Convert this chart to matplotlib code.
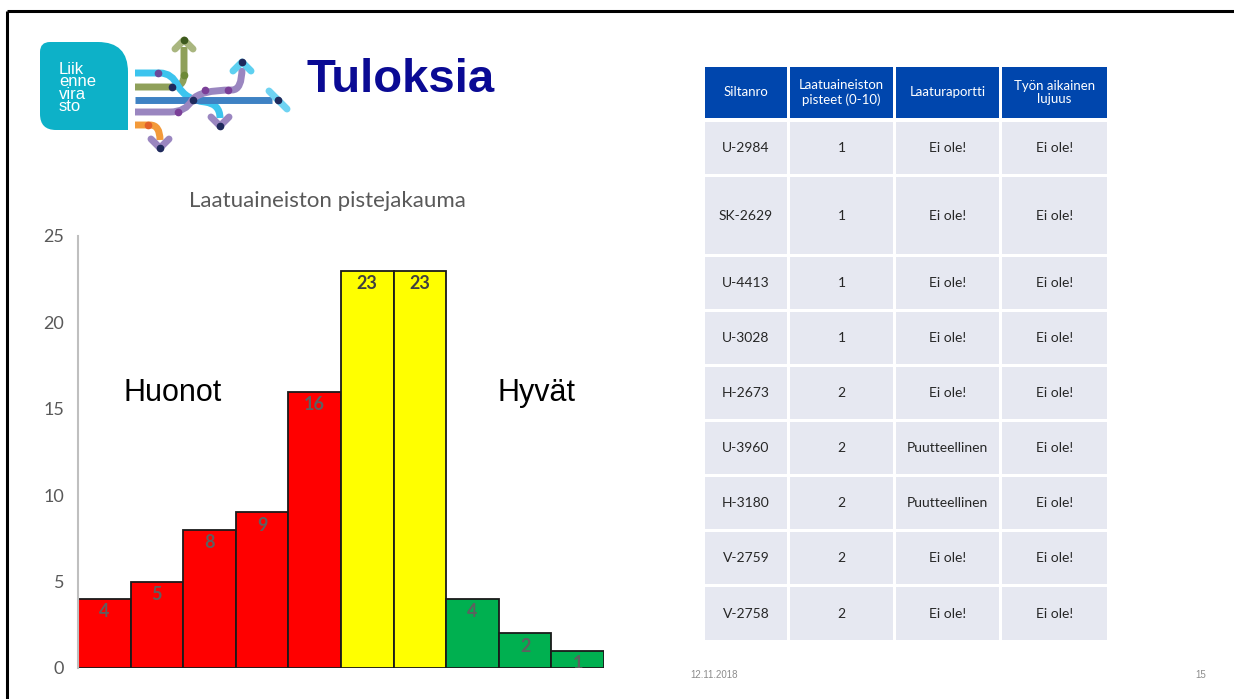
import numpy as np
import matplotlib
matplotlib.use("Agg")
import matplotlib.pyplot as plt
from matplotlib.patches import Rectangle, PathPatch
from matplotlib.path import Path

# --------------------------
# Data
# --------------------------
bar_values = [4, 5, 8, 9, 16, 23, 23, 4, 2, 1]
bar_colors = ["#FF0000"] * 5 + ["#FFFF00"] * 2 + ["#00B050"] * 3
y_ticks = [0, 5, 10, 15, 20, 25]

table_header = ["Siltanro", "Laatuaineiston\npisteet (0-10)", "Laaturaportti", "Työn aikainen\nlujuus"]
siltanro = ["U-2984", "SK-2629", "U-4413", "U-3028", "H-2673", "U-3960", "H-3180", "V-2759", "V-2758"]
pisteet = ["1", "1", "1", "1", "2", "2", "2", "2", "2"]
laaturaportti = ["Ei ole!", "Ei ole!", "Ei ole!", "Ei ole!", "Ei ole!",
                 "Puutteellinen", "Puutteellinen", "Ei ole!", "Ei ole!"]
lujuus = ["Ei ole!"] * 9

W, H = 1234, 699
fig = plt.figure(figsize=(W / 100, H / 100), dpi=100)
fig.patch.set_facecolor("white")

# overlay in pixel coordinates for slide furniture
bg = fig.add_axes([0, 0, 1, 1])
bg.set_xlim(0, W)
bg.set_ylim(H, 0)
bg.axis("off")

# slide border
bg.plot([7, W], [11, 11], color="black", lw=2.2, solid_capstyle="butt")
bg.plot([7, 7], [11, H], color="black", lw=2.2, solid_capstyle="butt")

# --------------------------
# Logo
# --------------------------
teal = Path([(40, 52), (40, 42), (50, 42), (98, 42), (128, 42), (128, 72),
             (128, 130), (56, 130), (40, 130), (40, 114), (40, 52)],
            [Path.MOVETO, Path.CURVE3, Path.CURVE3, Path.LINETO, Path.CURVE3, Path.CURVE3,
             Path.LINETO, Path.LINETO, Path.CURVE3, Path.CURVE3, Path.CLOSEPOLY])
bg.add_patch(PathPatch(teal, facecolor="#0DB1C8", edgecolor="none"))
bg.text(59, 88, "Liik\nenne\nvira\nsto", color="white", fontsize=12, ha="left", va="center",
        linespacing=0.8, family="Liberation Sans")

def stroke(verts, codes, color):
    bg.add_patch(PathPatch(Path(verts, codes), facecolor="none", edgecolor=color, lw=5,
                           capstyle="butt", joinstyle="round"))

M, L, C = Path.MOVETO, Path.LINETO, Path.CURVE3
# olive up
stroke([(135, 87), (172, 87), (184, 87), (184, 75), (184, 47)], [M, L, C, C, L], "#8FA05A")
# cyan down
stroke([(135, 73), (160, 73), (172, 73), (178, 86), (186, 100), (205, 102), (220, 104), (220, 118)],
       [M, L, C, C, C, C, C, L], "#3CC4EE")
# blue straight
stroke([(135, 100), (272, 100)], [M, L], "#3E82C4")
# purple up
stroke([(135, 112), (170, 112), (186, 112), (192, 100), (200, 90), (232, 90), (242, 90), (242, 68)],
       [M, L, C, C, C, C, C, L], "#9A86C0")
# orange down
stroke([(135, 125), (150, 125), (160, 125), (160, 140)], [M, L, C, C], "#F39A3A")

def chevron(x, y, d, color):
    s = 9
    if d == "up":
        pts = [(x - s, y + s), (x, y), (x + s, y + s)]
    elif d == "down":
        pts = [(x - s, y - s), (x, y), (x + s, y - s)]
    else:
        pts = [(x - s, y - s), (x, y), (x + s, y + s)]
    xs, ys = zip(*pts)
    bg.plot(xs, ys, color=color, lw=5, solid_capstyle="round", solid_joinstyle="round")

chevron(184, 40, "up", "#A9B67F")
chevron(242, 62, "up", "#5ED0F0")
chevron(278, 100, "right", "#6FD3F2")
chevron(220, 126, "down", "#9A86C0")
chevron(160, 148, "down", "#9A86C0")
for (dx, dy, dc) in [(184, 40, "#3E5A1E"), (184, 75, "#6E8A36"), (242, 62, "#1F2A5C"),
                     (278, 100, "#1F2A5C"), (193, 100, "#1F2A5C"), (172, 87, "#1F2A5C"),
                     (220, 126, "#1F2A5C"), (160, 148, "#1F2A5C"), (158, 73, "#6A4A9A"),
                     (178, 112, "#7B3F98"), (205, 90, "#7B3F98"), (228, 90, "#7B3F98"),
                     (148, 125, "#E2602A")]:
    bg.plot(dx, dy, "o", color=dc, ms=4.5)

bg.text(401, 80, "Tuloksia", color="#0A0A94", fontsize=34, fontweight="bold",
        ha="center", va="center", family="Liberation Sans")

# --------------------------
# Bar chart
# --------------------------
ax = fig.add_axes([78 / W, (H - 668) / H, 526 / W, 432 / H])
ax.set_facecolor("none")
x = np.arange(len(bar_values))
ax.bar(x, bar_values, width=1.0, color=bar_colors, edgecolor="#1a1a1a", linewidth=1.3)
for i, v in enumerate(bar_values):
    ax.annotate(str(v), (i, v), xytext=(0, -3), textcoords="offset points",
                ha="center", va="top", fontsize=13, fontweight="bold",
                color="#404040" if v > 20 else "#5f5f5f", family="Lato", clip_on=True)
ax.set_xlim(-0.5, 9.5)
ax.set_ylim(0, 25)
ax.set_yticks(y_ticks)
ax.set_xticks([])
ax.tick_params(axis="y", length=0, pad=10, labelsize=13, labelcolor="#595959")
for lab in ax.get_yticklabels():
    lab.set_family("Lato")
for s in ["top", "right", "bottom"]:
    ax.spines[s].set_visible(False)
ax.spines["left"].set_color("#BFBFBF")
ax.spines["left"].set_linewidth(1.5)

bg.text(327, 201, "Laatuaineiston pistejakauma", fontsize=16, color="#595959",
        ha="center", va="center", family="Lato")
bg.text(173, 393, "Huonot", fontsize=22, ha="center", va="center", family="Liberation Sans")
bg.text(537, 393, "Hyvät", fontsize=22, ha="center", va="center", family="Liberation Sans")

# --------------------------
# Table
# --------------------------
col_x = [(705, 787), (790, 893), (896, 999), (1002, 1107)]
row_y = [(67, 118), (122, 174), (177, 254), (257, 309), (312, 364), (367, 419),
         (422, 474), (477, 529), (532, 584), (587, 640)]
rows = list(zip(siltanro, pisteet, laaturaportti, lujuus))
for r, (y0, y1) in enumerate(row_y):
    for c, (x0, x1) in enumerate(col_x):
        if r == 0:
            fc, tc, txt, fs = "#0046AD", "white", table_header[c], 9.5
        else:
            fc, tc, txt, fs = "#E6E8F1", "#262626", rows[r - 1][c], 10
        bg.add_patch(Rectangle((x0, y0), x1 - x0, y1 - y0, facecolor=fc, edgecolor="none"))
        bg.text((x0 + x1) / 2, (y0 + y1) / 2, txt, color=tc, fontsize=fs, ha="center",
                va="center", family="Lato", linespacing=1.15)

# footer
bg.text(690, 675, "12.11.2018", fontsize=7, color="#8C8C8C", ha="left", va="center",
        family="Liberation Sans")
bg.text(1206, 675, "15", fontsize=7, color="#8C8C8C", ha="right", va="center",
        family="Liberation Sans")

fig.savefig("out.png", dpi=100)
